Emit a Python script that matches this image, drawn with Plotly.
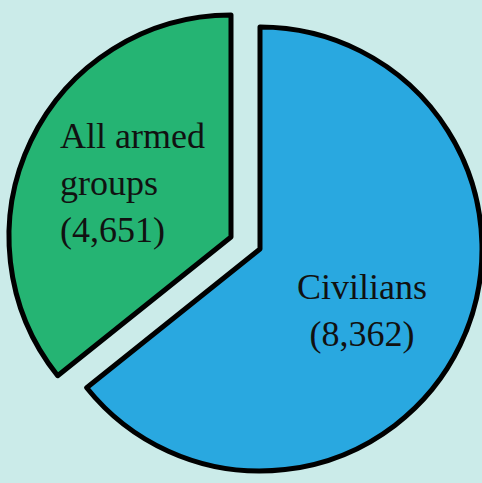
import plotly.graph_objects as go

# Data
labels = ["Civilians", "All armed groups"]
values = [8362, 4651]
display_lines = [["Civilians", "(8,362)"], ["All armed", "groups", "(4,651)"]]

BG = "#CBEBE9"
BLUE = "#29A8E0"
GREEN = "#25B473"
CLEAR = "rgba(0,0,0,0)"

W, H = 482, 483

def dom(cx, cy, r):
    return dict(x=[(cx - r) / W, min((cx + r) / W, 1.0)],
                y=[max((H - (cy + r)) / H, 0.0), (H - (cy - r)) / H])

r = 222
fig = go.Figure()
# Civilians slice (unpulled)
fig.add_trace(go.Pie(
    labels=labels, values=values, sort=False, direction="clockwise", rotation=0,
    marker=dict(colors=[BLUE, CLEAR], line=dict(color=["black", CLEAR], width=[5, 0])),
    textinfo="none", hoverinfo="skip", showlegend=False,
    domain=dom(260, 249, r),
))
# Armed groups slice (pulled out)
fig.add_trace(go.Pie(
    labels=labels, values=values, sort=False, direction="clockwise", rotation=0,
    marker=dict(colors=[CLEAR, GREEN], line=dict(color=[CLEAR, "black"], width=[0, 5])),
    textinfo="none", hoverinfo="skip", showlegend=False,
    domain=dom(231, 237, r),
))

font = dict(family="Liberation Serif, Times New Roman, serif", size=36, color="#111111")
fig.add_annotation(text="<br>".join(display_lines[0]), xref="paper", yref="paper",
                   x=362 / W, y=1 - 310 / H, xanchor="center", yanchor="middle",
                   align="center", showarrow=False, font=font)
fig.add_annotation(text="<br>".join(display_lines[1]), xref="paper", yref="paper",
                   x=58 / W, y=1 - 183 / H, xanchor="left", yanchor="middle",
                   align="left", showarrow=False, font=font)

fig.update_layout(width=W, height=H, margin=dict(l=0, r=0, t=0, b=0),
                  paper_bgcolor=BG, plot_bgcolor=BG)
fig.write_html("out.html")
